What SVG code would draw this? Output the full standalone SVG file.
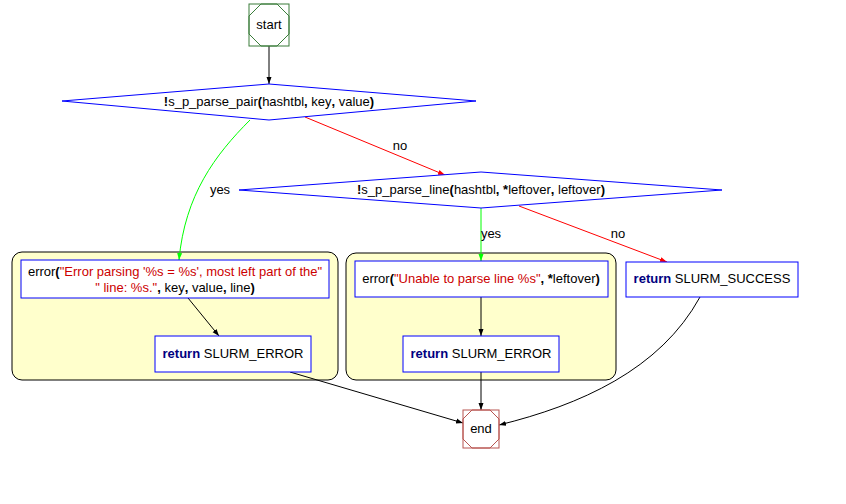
<svg xmlns="http://www.w3.org/2000/svg" width="846" height="504" viewBox="0 0 846 504">
<style>
text{font-family:"Liberation Sans",Arial,sans-serif;font-size:13px;fill:#000}
.b{font-weight:bold}
.kw{font-weight:bold;fill:#000080}
.str{fill:#cc0000}
.node{fill:#fff;stroke:#0000ff;stroke-width:1}
.cl{fill:#ffffcc;stroke:#000;stroke-width:1}
.e{fill:none;stroke-width:1}
</style>
<defs>
<marker id="ak" markerWidth="8" markerHeight="8" refX="7" refY="4" orient="auto" markerUnits="userSpaceOnUse"><path d="M0,1.5 L7,4 L0,6.5z" fill="#000"/></marker>
<marker id="ar" markerWidth="8" markerHeight="8" refX="7" refY="4" orient="auto" markerUnits="userSpaceOnUse"><path d="M0,1.5 L7,4 L0,6.5z" fill="#ff0000"/></marker>
<marker id="ag" markerWidth="8" markerHeight="8" refX="7" refY="4" orient="auto" markerUnits="userSpaceOnUse"><path d="M0,1.5 L7,4 L0,6.5z" fill="#00ff00"/></marker>
</defs>
<rect width="846" height="504" fill="#fff"/>
<g id="cluster1"><rect class="cl" x="12" y="252" width="326" height="128" rx="10"/></g>
<g id="cluster2"><rect class="cl" x="346" y="253" width="270" height="127" rx="10"/></g>
<g id="connectors">
<path class="e" stroke="#000" d="M269,46 L269,84" marker-end="url(#ak)"/>
<path class="e" stroke="#00ff00" d="M250,120 C215,155 185,195 179,260" marker-end="url(#ag)"/>
<text x="220" y="194" text-anchor="middle">yes</text>
<path class="e" stroke="#ff0000" d="M305,117 L445,175" marker-end="url(#ar)"/>
<text x="400" y="150" text-anchor="middle">no</text>
<path class="e" stroke="#00ff00" d="M481,208 L481,261" marker-end="url(#ag)"/>
<text x="491" y="238" text-anchor="middle">yes</text>
<path class="e" stroke="#ff0000" d="M519,206 L667,262" marker-end="url(#ar)"/>
<text x="618" y="238" text-anchor="middle">no</text>
<path class="e" stroke="#000" d="M188,298 L219,336" marker-end="url(#ak)"/>
<path class="e" stroke="#000" d="M481,297 L481,336" marker-end="url(#ak)"/>
<path class="e" stroke="#000" d="M290,372 L463,423" marker-end="url(#ak)"/>
<path class="e" stroke="#000" d="M481,372 L481,410" marker-end="url(#ak)"/>
<path class="e" stroke="#000" d="M700,297 C660,370 580,405 499,425" marker-end="url(#ak)"/>
</g>
<g id="start">
<rect x="249" y="4" width="40" height="42" fill="#fff" stroke="#3a7d3a"/>
<polygon points="261,4 277,4 289,16 289,34 277,46 261,46 249,34 249,16" fill="none" stroke="#3a7d3a"/>
<text x="269" y="29" text-anchor="middle">start</text>
</g>
<g id="cond1">
<polygon class="node" points="269,84 476,101 269,120 62,101"/>
<text x="269" y="106" text-anchor="middle"><tspan class="b">!</tspan>s_p_parse_pair<tspan class="b">(</tspan>hashtbl<tspan class="b">,</tspan> key<tspan class="b">,</tspan> value<tspan class="b">)</tspan></text>
</g>
<g id="cond2">
<polygon class="node" points="481,172 722,190 481,208 239,190"/>
<text x="481" y="194" text-anchor="middle"><tspan class="b">!</tspan>s_p_parse_line<tspan class="b">(</tspan>hashtbl<tspan class="b">,</tspan> <tspan class="b">*</tspan>leftover<tspan class="b">,</tspan> leftover<tspan class="b">)</tspan></text>
</g>
<g id="err1">
<rect class="node" x="21" y="260" width="308" height="38"/>
<text x="175" y="276" text-anchor="middle">error<tspan class="b">(</tspan><tspan class="str">"Error parsing '%s = %s', most left part of the"</tspan></text>
<text x="175" y="292" text-anchor="middle"><tspan class="str">" line: %s."</tspan><tspan class="b">,</tspan> key<tspan class="b">,</tspan> value<tspan class="b">,</tspan> line<tspan class="b">)</tspan></text>
</g>
<g id="ret1">
<rect class="node" x="155" y="336" width="156" height="36"/>
<text x="233" y="358" text-anchor="middle"><tspan class="kw">return</tspan> SLURM_ERROR</text>
</g>
<g id="err2">
<rect class="node" x="355" y="261" width="253" height="36"/>
<text x="481" y="283" text-anchor="middle">error<tspan class="b">(</tspan><tspan class="str">"Unable to parse line %s"</tspan><tspan class="b">,</tspan> <tspan class="b">*</tspan>leftover<tspan class="b">)</tspan></text>
</g>
<g id="ret2">
<rect class="node" x="403" y="336" width="156" height="36"/>
<text x="481" y="358" text-anchor="middle"><tspan class="kw">return</tspan> SLURM_ERROR</text>
</g>
<g id="ret3">
<rect class="node" x="626" y="262" width="172" height="35"/>
<text x="712" y="283" text-anchor="middle"><tspan class="kw">return</tspan> SLURM_SUCCESS</text>
</g>
<g id="end">
<rect x="463" y="410" width="36" height="38" fill="#fff" stroke="#b85450"/>
<polygon points="472,410 490,410 499,419 499,439 490,448 472,448 463,439 463,419" fill="none" stroke="#b85450"/>
<text x="481" y="433" text-anchor="middle">end</text>
</g>
</svg>
